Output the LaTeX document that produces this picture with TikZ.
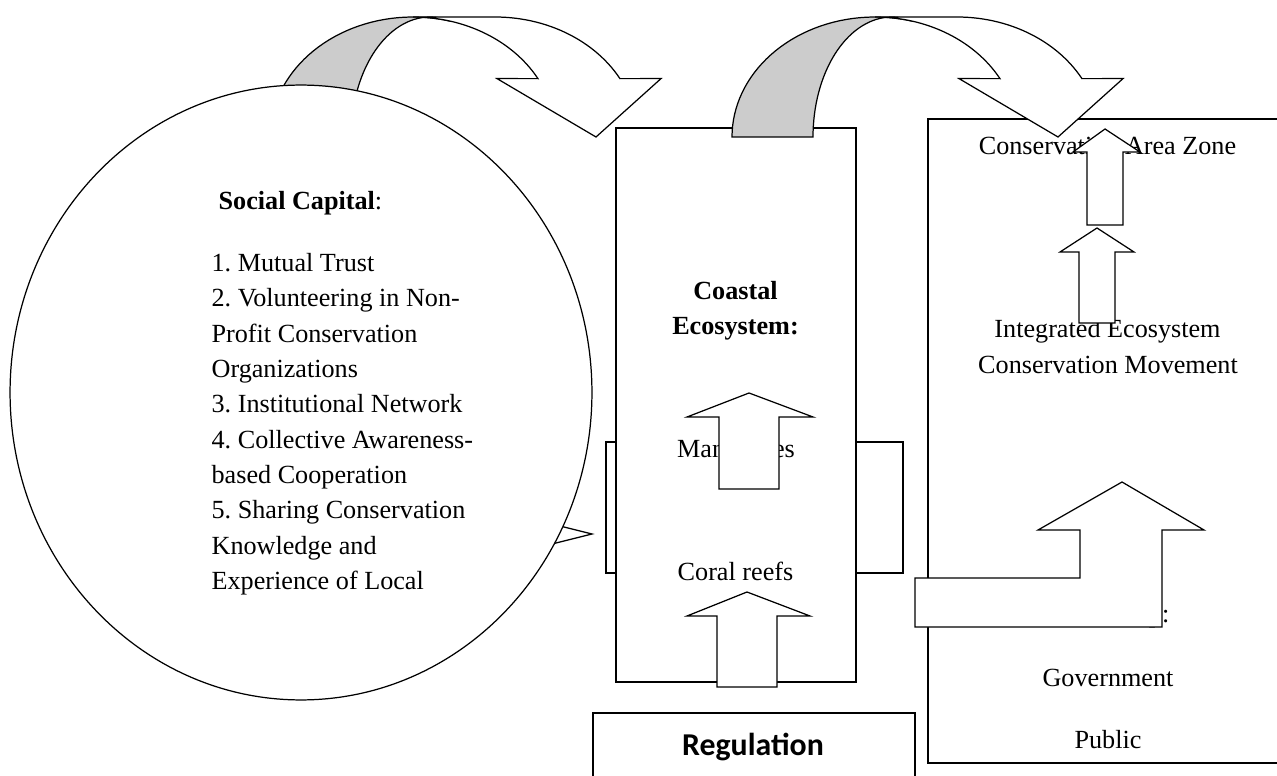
\documentclass[tikz,border=0pt]{standalone}
\usepackage{fontspec}
\setmainfont{Liberation Serif}
\newfontfamily\calibrifont{Carlito}
\usetikzlibrary{shapes.geometric,fit}
\begin{document}
\frenchspacing
\begin{tikzpicture}[x=0.02cm, y=-0.02cm, line width=0.7pt,
  txt/.style={font=\fontsize{14.9}{18}\selectfont\frenchspacing, inner sep=0, anchor=base},
  ltxt/.style={txt, anchor=base west},
  bx/.style={draw, fill=white, inner sep=0, rectangle},
  blk/.style={draw, fill=white},
  greyband/.style={draw, fill=black!20},
  curvarr/.pic={
    \filldraw[greyband] plot[domain=180:74.6, samples=40] ({143*cos(\x)},{-120*sin(\x)})
       -- plot[domain=74.6:180, samples=40] ({17+79*cos(\x)},{-120*sin(\x)}) -- cycle;
    \filldraw[blk] plot[domain=74.6:29.1, samples=30] ({143*cos(\x)},{-120*sin(\x)})
       -- (84,-58.4) -- (183,0) -- (248,-58.4)
       -- plot[domain=29.1:90, samples=30] ({82+143*cos(\x)},{-120*sin(\x)})
       -- plot[domain=90:74.6, samples=10] ({143*cos(\x)},{-120*sin(\x)}) -- cycle;
  }]

\useasboundingbox (0,0) rectangle (1277,776);
\clip (0,0) rectangle (1277,776);

% coastal ecosystem column
\node[bx, fit={(606,442) (903,573)}] (wings) {};
\node[bx, fit={(616,128) (856,682)}] (coastal) {};
\node[txt] (coastalA) at (735.5,300) {\bfseries Coastal};
\node[txt] (coastalB) at (735.5,335) {\bfseries Ecosystem:};
\node[txt] (mangroves) at (736,458) {Mangroves};
\node[txt] (coral) at (735.5,580) {Coral reefs};
\filldraw[blk] (749,393) -- (813,417) -- (779,417) -- (779,489) -- (719,489) -- (719,417) -- (687,417) -- cycle;
\filldraw[blk] (747,592) -- (810,616) -- (777,616) -- (777,687) -- (717,687) -- (717,616) -- (687,616) -- cycle;

% regulation
\node[bx, fit={(593,713) (915,800)}] (regbox) {};
\node[inner sep=0, anchor=base, font=\calibrifont\bfseries\fontsize{18.1}{22}\selectfont] (reg) at (753,755) {Regulation};

% right box
\node[bx, fit={(928,119) (1295,763)}] (rightbox) {};
\node[txt] (zone) at (1107.5,155) {Conservation Area Zone};
\node[txt] (ieA) at (1107.5,338) {Integrated Ecosystem};
\node[txt] (ieB) at (1108,374) {Conservation Movement};
\node[txt] (partner) at (1106,622.5) {Partnership:};
\node[txt] (gov) at (1108,686.5) {Government};
\node[txt] (pub) at (1108,748) {Public};
\filldraw[blk] (1105,129) -- (1140,152) -- (1123,152) -- (1123,225) -- (1087,225) -- (1087,152) -- (1073,152) -- cycle;
\filldraw[blk] (1097,228) -- (1134,252) -- (1115,252) -- (1115,323) -- (1079,323) -- (1079,252) -- (1060,252) -- cycle;
\filldraw[blk] (915,578) -- (1080,578) -- (1080,530) -- (1038,530) -- (1122,482) -- (1204,530) -- (1162,530) -- (1162,627) -- (915,627) -- cycle;

% social capital
\pic at (413,137) {curvarr};
\filldraw[blk] (400,524) -- (512,524) -- (512,514) -- (592,534) -- (512,554) -- (512,544) -- (400,544) -- cycle;
\node[draw, fill=white, ellipse, inner sep=0, minimum width=11.64cm, minimum height=12.3cm] (social) at (301,392.5) {};
\node[ltxt] (sctitle) at (218,210) {\textbf{Social Capital}:};
\foreach \t [count=\i from 0] in {{1. Mutual Trust},{2. Volunteering in Non-},{Profit Conservation},{Organizations},{3. Institutional Network},{4. Collective Awareness-},{based Cooperation},{5. Sharing Conservation},{Knowledge and},{Experience of Local}}
  \node[ltxt] (sc\i) at (211,{271.7+35.3*\i}) {\t};

\pic at (875,137) {curvarr};
\end{tikzpicture}
\end{document}
